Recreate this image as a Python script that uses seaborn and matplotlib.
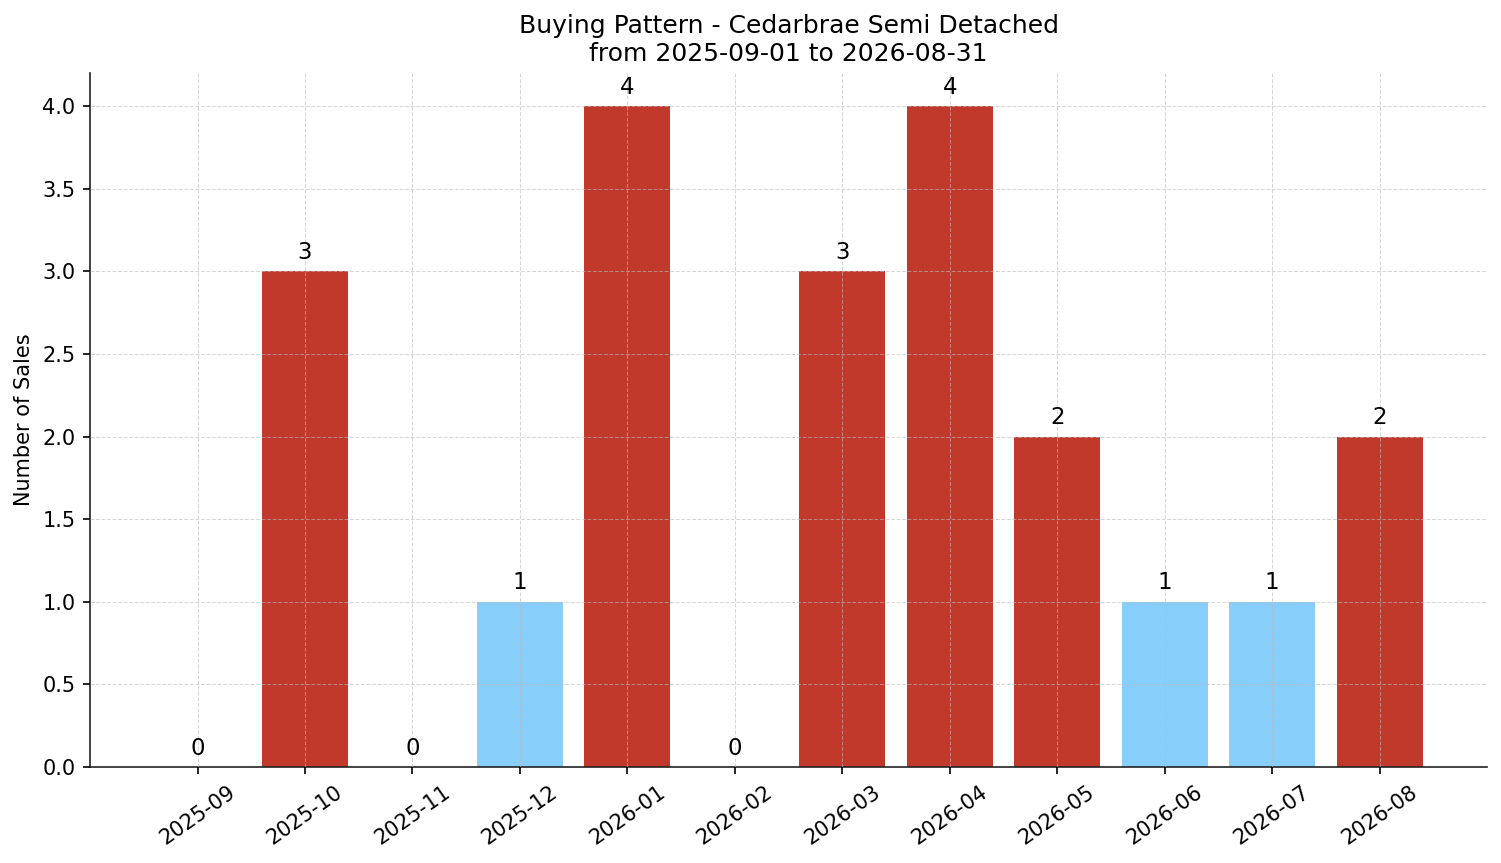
import seaborn as sns
import matplotlib.pyplot as plt
import pandas as pd

months = ['2025-09', '2025-10', '2025-11', '2025-12', '2026-01', '2026-02',
          '2026-03', '2026-04', '2026-05', '2026-06', '2026-07', '2026-08']
sales = [0, 3, 0, 1, 4, 0, 3, 4, 2, 1, 1, 2]

RED = '#c0392b'
BLUE = '#87cefa'
colors = [RED if v >= 2 else BLUE for v in sales]

sns.set_style('ticks', {'text.color': 'black', 'axes.labelcolor': 'black',
                        'xtick.color': 'black', 'ytick.color': 'black',
                        'axes.edgecolor': '#222222'})
plt.rcParams['font.family'] = ['DejaVu Sans']
plt.rcParams['font.size'] = 10

df = pd.DataFrame({'month': months, 'sales': sales})

fig, ax = plt.subplots(figsize=(1501 / 150, 863 / 150), dpi=150)
sns.barplot(data=df, x='month', y='sales', hue='month', palette=colors,
            legend=False, width=0.8, saturation=1, linewidth=0, ax=ax)

for i, v in enumerate(sales):
    ax.annotate(str(v), (i, v), xytext=(0, 3.5), textcoords='offset points',
                ha='center', va='bottom', fontsize=11)

ax.set_xlim(-1, len(months))
ax.set_ylim(0, 4.2)
ax.set_title('Buying Pattern - Cedarbrae Semi Detached\nfrom 2025-09-01 to 2026-08-31',
             fontsize=12)
ax.set_xlabel('')
ax.set_ylabel('Number of Sales', fontsize=10)
ax.tick_params(axis='both', labelsize=10)
plt.setp(ax.get_xticklabels(), rotation=35, ha='center')
ax.grid(True, linestyle='--', color='#bbbbbb', linewidth=0.5, alpha=0.6)
ax.set_axisbelow(False)
sns.despine(ax=ax)

fig.subplots_adjust(left=0.06, right=0.9907, top=0.9154, bottom=0.1112)
fig.savefig('out.png', dpi=150)
